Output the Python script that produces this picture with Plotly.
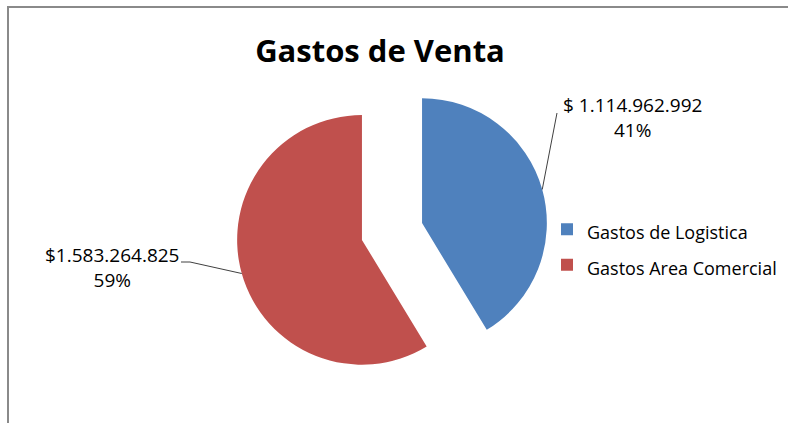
import math
import plotly.graph_objects as go

# ---- data ----
categories = ["Gastos de Logistica", "Gastos Area Comercial"]
values = [1114962992, 1583264825]
currency_prefix = ["$ ", "$"]
colors = ["#4F81BD", "#C0504D"]
title_text = "Gastos de Venta"

# ---- layout constants (pixels) ----
W, H = 788, 423
FONT = "Open Sans, sans-serif"
PULL = 0.25
PIE_CX, PIE_CY, PIE_HALF = 392, 231.5, 156
label_centers = [(632, 117), (112, 267)]
leader_ends = [[(557, 113)], [(190, 262), (181, 262)]]


def fmt(v):
    return f"{v:,}".replace(",", ".")


def px(x):
    return x / W


def py(y):
    return 1 - y / H


total = sum(values)
fracs = [v / total for v in values]
label_texts = [
    f"{currency_prefix[i]}{fmt(values[i])}<br>{round(100 * fracs[i])}%"
    for i in range(len(values))
]
legend_labels = [f"<span style='font-size:18px'>{c}</span>" for c in categories]

dom_x = [px(PIE_CX - PIE_HALF), px(PIE_CX + PIE_HALF)]
dom_y = [py(PIE_CY + PIE_HALF), py(PIE_CY - PIE_HALF)]
radius = PIE_HALF / (1 + PULL)

fig = go.Figure(
    go.Pie(
        labels=legend_labels,
        values=values,
        customdata=categories,
        marker=dict(colors=colors, line=dict(width=0)),
        pull=PULL,
        sort=False,
        direction="clockwise",
        rotation=0,
        textinfo="none",
        hovertemplate="%{customdata}: %{value}<extra></extra>",
        domain=dict(x=dom_x, y=dom_y),
    )
)

shapes = []
annotations = []
cum = 0.0
for i, f in enumerate(fracs):
    mid = (cum + f / 2) * 2 * math.pi
    cum += f
    dist = (1 + PULL) * radius
    sx = PIE_CX + dist * math.sin(mid)
    sy = PIE_CY - dist * math.cos(mid)
    pts = [(sx, sy)] + leader_ends[i]
    path = "M " + " L ".join(f"{px(x):.5f},{py(y):.5f}" for x, y in pts)
    shapes.append(dict(type="path", xref="paper", yref="paper", path=path,
                       line=dict(color="#404040", width=1)))
    lx, ly = label_centers[i]
    annotations.append(dict(
        xref="paper", yref="paper", x=px(lx), y=py(ly),
        xanchor="center", yanchor="middle", align="center",
        text=label_texts[i], showarrow=False,
        font=dict(family=FONT, size=19, color="#000000"),
    ))

# chart frame (top and left edges visible)
shapes.append(dict(type="line", xref="paper", yref="paper",
                   x0=px(7), y0=py(7), x1=1, y1=py(7),
                   line=dict(color="#8a8a8a", width=2)))
shapes.append(dict(type="line", xref="paper", yref="paper",
                   x0=px(8), y0=py(7), x1=px(8), y1=0,
                   line=dict(color="#8a8a8a", width=2)))

fig.update_layout(
    width=W, height=H,
    margin=dict(l=0, r=0, t=0, b=0),
    paper_bgcolor="white", plot_bgcolor="white",
    title=dict(text=title_text, x=px(380), xanchor="center",
               y=py(51), yanchor="middle", yref="container",
               font=dict(family=FONT, size=31, color="#000000", weight="bold")),
    showlegend=True,
    legend=dict(x=px(547), y=py(247), xanchor="left", yanchor="middle",
                font=dict(family=FONT, size=25, color="#000000"),
                bgcolor="rgba(0,0,0,0)"),
    shapes=shapes,
    annotations=annotations,
)

fig.write_html(
    "out.html",
    config={"displayModeBar": False},
    post_script="document.body.style.margin='0';document.body.style.overflow='hidden';",
)
